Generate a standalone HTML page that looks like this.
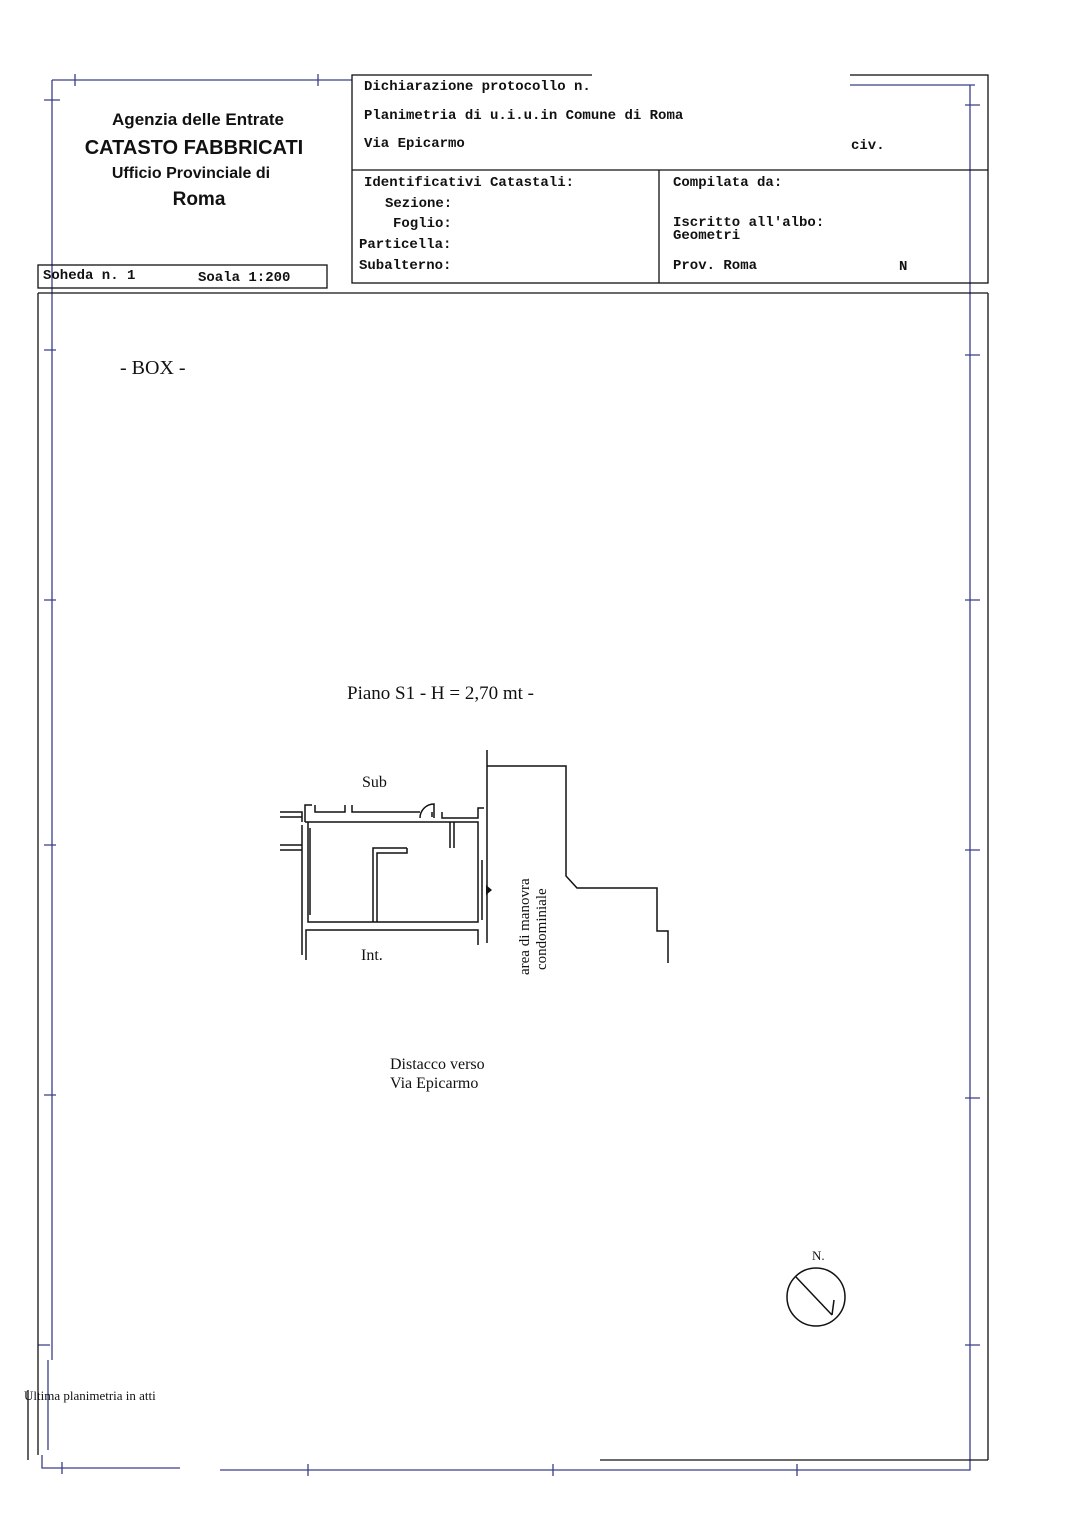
<!DOCTYPE html>
<html><head><meta charset="utf-8"><style>
body{margin:0;background:#fff;}
svg{display:block}
.m{font-family:"Liberation Mono",monospace;font-size:14px;fill:#111;font-weight:bold}
.s{font-family:"Liberation Sans",sans-serif;font-weight:bold;fill:#111;text-anchor:middle}
.r{font-family:"Liberation Serif",serif;fill:#111}
</style></head><body>
<svg width="1086" height="1536" viewBox="0 0 1086 1536" xmlns="http://www.w3.org/2000/svg">
<g stroke="#3a3f8a" stroke-width="1.3" fill="none">
<path d="M52 80 H352 M52 80 V1360 M48 1360 V1450 M42 1455 V1468 H180 M220 1470 H970 V85 M850 85 H975"/>
<path d="M75 74 V86 M318 74 V86 M44 100 H60 M44 350 H56 M44 600 H56 M44 845 H56 M44 1095 H56 M38 1345 H50 M62 1462 V1474 M308 1464 V1476 M553 1464 V1476 M797 1464 V1476 M965 105 H980 M965 355 H980 M965 600 H980 M965 850 H980 M965 1098 H980 M965 1345 H980"/>
</g>
<g stroke="#111" stroke-width="1.3" fill="none">
<rect x="352" y="75" width="636" height="208"/>
<path d="M352 170 H988 M659 170 V283 M38 293 H988 M38 293 V1455 M28 1390 V1460 M988 293 V1460 M600 1460 H988"/>
<rect x="38" y="265" width="289" height="23"/>
</g>
<rect x="592" y="70" width="258" height="10" fill="#fff"/>
<text class="s" x="198" y="125" font-size="17">Agenzia delle Entrate</text>
<text class="s" x="194" y="154" font-size="20">CATASTO FABBRICATI</text>
<text class="s" x="191" y="178" font-size="16">Ufficio Provinciale di</text>
<text class="s" x="199" y="205" font-size="19">Roma</text>
<text class="m" x="364" y="90">Dichiarazione protocollo n.</text>
<text class="m" x="364" y="119">Planimetria di u.i.u.in Comune di Roma</text>
<text class="m" x="364" y="147">Via Epicarmo</text>
<text class="m" x="851" y="149">civ.</text>
<text class="m" x="364" y="186">Identificativi Catastali:</text>
<text class="m" x="385" y="207">Sezione:</text>
<text class="m" x="393" y="227">Foglio:</text>
<text class="m" x="359" y="248">Particella:</text>
<text class="m" x="359" y="269">Subalterno:</text>
<text class="m" x="673" y="186">Compilata da:</text>
<text class="m" x="673" y="226">Iscritto all'albo:</text>
<text class="m" x="673" y="239">Geometri</text>
<text class="m" x="673" y="269">Prov. Roma</text>
<text class="m" x="899" y="270">N</text>
<text class="m" x="43" y="279">Soheda n. 1</text>
<text class="m" x="198" y="281">Soala 1:200</text>
<text class="r" x="120" y="374" font-size="20">- BOX -</text>
<text class="r" x="347" y="699" font-size="19">Piano S1 - H = 2,70 mt -</text>
<text class="r" x="362" y="787" font-size="16">Sub</text>
<text class="r" x="361" y="960" font-size="16">Int.</text>
<text class="r" font-size="15" transform="translate(529,975) rotate(-90)">area di manovra</text>
<text class="r" font-size="15" transform="translate(546,970) rotate(-90)">condominiale</text>
<text class="r" x="390" y="1069" font-size="16">Distacco verso</text>
<text class="r" x="390" y="1088" font-size="16">Via Epicarmo</text>
<text class="r" x="812" y="1260" font-size="13">N.</text>
<text class="r" x="24" y="1400" font-size="13">Ultima planimetria in atti</text>
<g stroke="#111" stroke-width="1.5" fill="none">
<circle cx="816" cy="1297" r="29"/>
<path d="M796 1277 L832 1315 M832 1315 L834 1300"/>
<path d="M487 750 V943 M487 766 H566 V876 L577 888 H657 V931 H668 V963"/>
<path d="M280 812 H302 V822 M280 817 H302 M305 822 V805 H312 M315 805 V812 H345 V805 M352 805 V812 H420 M432 812 V817 M442 812 V818 H478 V808 H484"/>
<path d="M305 822 H478 V922 H308 V822 M310 828 V915 M302 825 V955 M306 960 V930 H478 V945"/>
<path d="M373 922 V848 H407 M377 922 V853 H407 V848"/>
<path d="M450 822 V848 M454 822 V848"/>
<path d="M482 860 V920 M280 845 H302 M280 850 H302"/>
<path d="M420 818 A14 14 0 0 1 434 804 V818" />
</g>
<path d="M486 885 L492 890 L486 895 Z" fill="#111"/>
</svg>
</body></html>
